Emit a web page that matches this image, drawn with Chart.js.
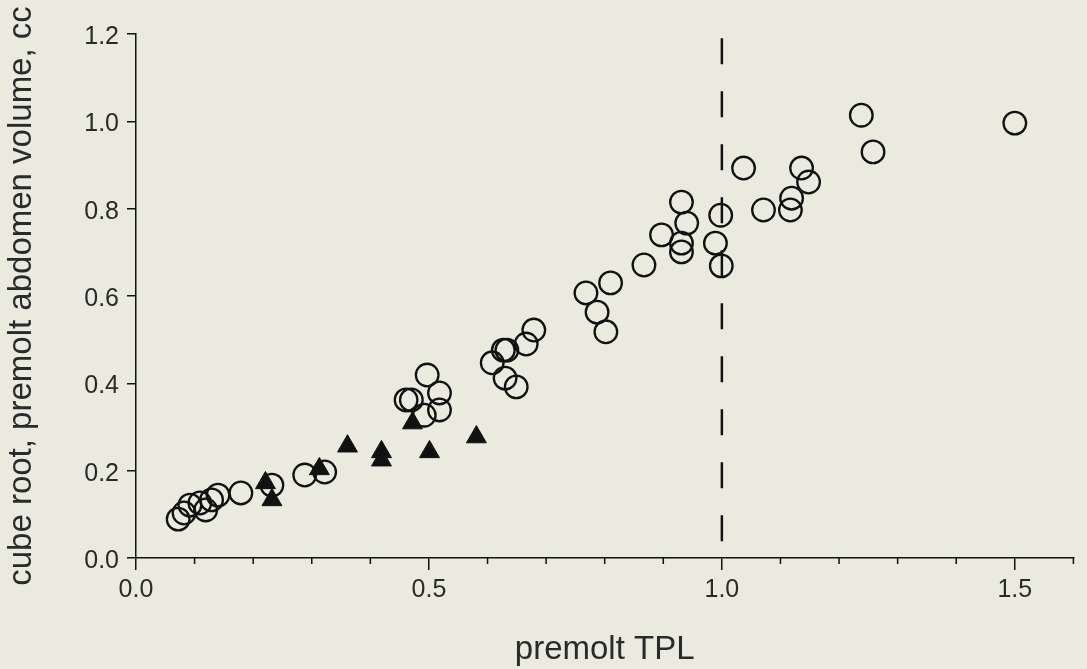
<!DOCTYPE html>
<html>
<head>
<meta charset="utf-8">
<script src="https://cdn.jsdelivr.net/npm/chart.js@4.4.1/dist/chart.umd.min.js"></script>
<style>
  html, body { margin: 0; padding: 0; background: #ebeadf; }
  #wrap { width: 1087px; height: 669px; position: relative; }
</style>
</head>
<body>
<div id="wrap"><canvas id="c" width="1087" height="669"></canvas></div>
<script>
// Open circles
const circleX = [0.072, 0.082, 0.092, 0.109, 0.119, 0.129, 0.140, 0.179, 0.232, 0.288, 0.322,
  0.461, 0.470, 0.497, 0.518, 0.518, 0.492,
  0.608, 0.627, 0.633, 0.630, 0.649, 0.666, 0.679,
  0.768, 0.787, 0.802, 0.810, 0.867, 0.897, 0.931, 0.940, 0.931, 0.931,
  0.998, 0.989, 0.999, 1.037, 1.071, 1.117, 1.119, 1.136, 1.148, 1.238, 1.258, 1.500];
const circleY = [0.089, 0.103, 0.121, 0.126, 0.110, 0.133, 0.144, 0.149, 0.167, 0.190, 0.197,
  0.362, 0.362, 0.419, 0.378, 0.339, 0.327,
  0.447, 0.476, 0.476, 0.412, 0.392, 0.490, 0.522,
  0.607, 0.563, 0.518, 0.630, 0.671, 0.740, 0.815, 0.767, 0.721, 0.701,
  0.785, 0.721, 0.669, 0.893, 0.797, 0.797, 0.824, 0.893, 0.861, 1.014, 0.930, 0.996];
// Filled triangles
const triangleX = [0.221, 0.232, 0.313, 0.361, 0.419, 0.419, 0.501, 0.581, 0.472];
const triangleY = [0.172, 0.133, 0.204, 0.256, 0.243, 0.224, 0.243, 0.277, 0.309];
// Vertical dashed reference line at TPL = 1.0
const refLineX = [1.0, 1.0];
const refLineY = [1.19, 0.0];
// Axes
const xMin = 0, xMax = 1.6, xMajorStep = 0.5, xMinorStep = 0.1;
const yMin = 0, yMax = 1.2, yStep = 0.2;
const xTitle = 'premolt TPL';
const yTitle = 'cube root, premolt abdomen volume, cc';

const zip = (xs, ys) => xs.map((x, i) => ({ x: x, y: ys[i] }));
const isMajor = v => Math.abs(v / xMajorStep - Math.round(v / xMajorStep)) < 1e-6;

const minorTicks = {
  id: 'minorTicks',
  afterDraw(chart) {
    const sx = chart.scales.x;
    const ctx = chart.ctx;
    ctx.save();
    ctx.strokeStyle = '#111';
    ctx.lineWidth = 1.5;
    sx.ticks.forEach(t => {
      if (!isMajor(t.value)) {
        const px = sx.getPixelForValue(t.value);
        ctx.beginPath();
        ctx.moveTo(px, sx.top);
        ctx.lineTo(px, sx.top + 6);
        ctx.stroke();
      }
    });
    ctx.restore();
  }
};

const font = 'Liberation Sans, Arial, Helvetica, sans-serif';

new Chart(document.getElementById('c'), {
  type: 'scatter',
  data: {
    datasets: [
      {
        data: zip(refLineX, refLineY),
        showLine: true,
        borderColor: '#111',
        borderWidth: 2.5,
        borderDash: [26, 27],
        pointRadius: 0,
        order: 3
      },
      {
        data: zip(circleX, circleY),
        pointStyle: 'circle',
        pointRadius: 11.3,
        pointBorderWidth: 2.3,
        pointBorderColor: '#111',
        pointBackgroundColor: 'rgba(0,0,0,0)',
        order: 2
      },
      {
        data: zip(triangleX, triangleY),
        pointStyle: 'triangle',
        pointRadius: 11.5,
        pointBorderWidth: 1,
        pointBorderColor: '#111',
        pointBackgroundColor: '#111',
        order: 1
      }
    ]
  },
  options: {
    responsive: false,
    animation: false,
    events: [],
    layout: { padding: { left: 0, right: 11, top: 34, bottom: 0 } },
    plugins: { legend: { display: false }, tooltip: { enabled: false } },
    scales: {
      x: {
        type: 'linear',
        min: xMin, max: xMax,
        afterFit(s) { s.height = 111; },
        afterBuildTicks(s) {
          const arr = [];
          for (let i = 0; i <= Math.round((xMax - xMin) / xMinorStep); i++) {
            arr.push({ value: +(xMin + i * xMinorStep).toFixed(2) });
          }
          s.ticks = arr;
        },
        border: { display: true, color: '#111', width: 1.5 },
        grid: {
          drawOnChartArea: false,
          drawTicks: true,
          tickLength: 12,
          lineWidth: 1.5,
          tickColor: c => (c.tick && isMajor(c.tick.value)) ? '#111' : 'rgba(0,0,0,0)'
        },
        ticks: {
          autoSkip: false,
          maxRotation: 0,
          padding: 5,
          color: '#2a2a2a',
          font: { family: font, size: 25 },
          callback: v => isMajor(v) ? v.toFixed(1) : ''
        },
        title: {
          display: true,
          text: xTitle,
          color: '#2a2a2a',
          font: { family: font, size: 33, lineHeight: 1 },
          padding: { top: 0, bottom: 3 }
        }
      },
      y: {
        type: 'linear',
        min: yMin, max: yMax,
        afterFit(s) { s.width = 136; },
        border: { display: true, color: '#111', width: 1.5 },
        grid: {
          drawOnChartArea: false,
          drawTicks: true,
          tickLength: 9,
          lineWidth: 1.5,
          tickColor: '#111'
        },
        ticks: {
          stepSize: yStep,
          padding: 8,
          labelOffset: 3,
          color: '#2a2a2a',
          font: { family: font, size: 25 },
          callback: v => v.toFixed(1)
        },
        title: {
          display: true,
          text: yTitle,
          color: '#2a2a2a',
          font: { family: font, size: 33, lineHeight: 1 },
          padding: { top: 5, bottom: 0 }
        }
      }
    }
  },
  plugins: [minorTicks]
});
</script>
</body>
</html>
